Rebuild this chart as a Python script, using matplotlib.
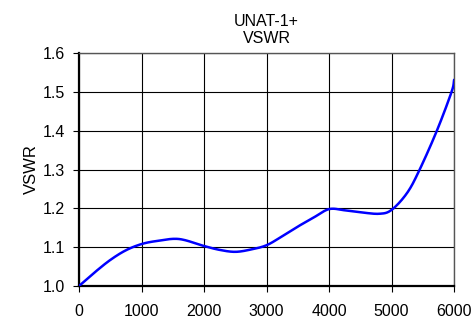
import matplotlib
matplotlib.use("Agg")
import matplotlib.pyplot as plt
import numpy as np

freq = [0, 250, 500, 750, 1000, 1250, 1600, 2000, 2250, 2500, 2750, 3000,
        3250, 3500, 3750, 4000, 4250, 4500, 4800, 5000, 5250, 5450, 5725, 5960, 6000]
vswr = [1.000, 1.035, 1.067, 1.092, 1.108, 1.116, 1.121, 1.103, 1.093, 1.088, 1.094, 1.105,
        1.128, 1.153, 1.176, 1.198, 1.195, 1.190, 1.186, 1.196, 1.240, 1.300, 1.400, 1.500, 1.530]
title = "UNAT-1+\nVSWR"
ylabel = "VSWR"
xticks = [0, 1000, 2000, 3000, 4000, 5000, 6000]
yticks = [1.0, 1.1, 1.2, 1.3, 1.4, 1.5, 1.6]

plt.rcParams['font.family'] = ['Liberation Sans', 'DejaVu Sans']
fig = plt.figure(figsize=(4.73, 3.18), dpi=100)
ax = fig.add_axes([0.167, 0.1006, 0.793, 0.7327])

def catmull(x, y, n=20):
    x = np.asarray(x, float); y = np.asarray(y, float)
    px = np.concatenate([[2*x[0]-x[1]], x, [2*x[-1]-x[-2]]])
    py = np.concatenate([[2*y[0]-y[1]], y, [2*y[-1]-y[-2]]])
    ox, oy = [], []
    for i in range(1, len(px)-2):
        t = np.linspace(0, 1, n, endpoint=False)
        for arr, out in ((px, ox), (py, oy)):
            p0, p1, p2, p3 = arr[i-1], arr[i], arr[i+1], arr[i+2]
            out.extend(0.5*((2*p1) + (-p0+p2)*t + (2*p0-5*p1+4*p2-p3)*t**2 + (-p0+3*p1-3*p2+p3)*t**3))
    ox.append(x[-1]); oy.append(y[-1])
    return np.array(ox), np.array(oy)

sx, sy = catmull(freq, vswr)
ax.plot(sx, sy, color='#0000ff', lw=1.8, zorder=3)

ax.set_xlim(0, 6000)
ax.set_ylim(1.0, 1.6)
ax.set_xticks(xticks)
ax.set_yticks(yticks)
ax.set_xticklabels([str(v) for v in xticks])
ax.set_yticklabels([f"{v:.1f}" for v in yticks])
ax.grid(True, color='black', lw=0.8)
ax.set_axisbelow(True)
ax.tick_params(labelsize=11.5, length=4, width=0.8, color='black', pad=6)
ax.tick_params(axis='x', pad=9)
for s in ['top', 'right']:
    ax.spines[s].set_color('#555555')
    ax.spines[s].set_linewidth(1.0)
for s in ['left', 'bottom']:
    ax.spines[s].set_color('black')
    ax.spines[s].set_linewidth(1.6)
ax.set_title(title, fontsize=11.5, pad=7, linespacing=1.2)
ax.set_ylabel(ylabel, fontsize=12, labelpad=3)

fig.savefig("out.png", dpi=100)
